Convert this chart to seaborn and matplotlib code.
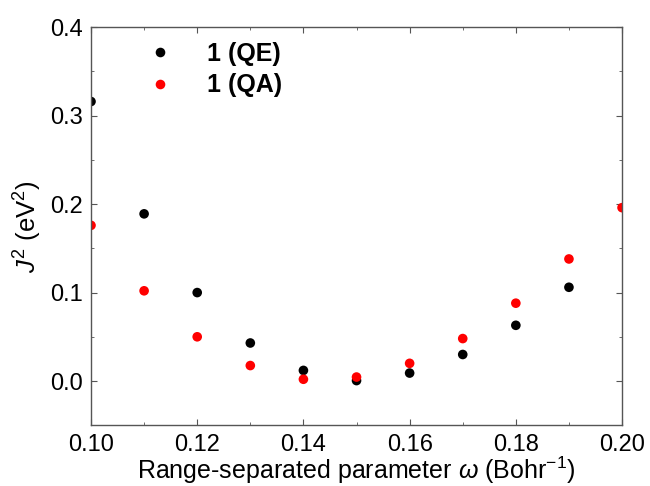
import numpy as np
import pandas as pd
import matplotlib
matplotlib.use("Agg")
import matplotlib.pyplot as plt
import seaborn as sns

omega_qe = [0.10, 0.11, 0.12, 0.13, 0.14, 0.15, 0.16, 0.17, 0.18, 0.19]
j2_qe = [0.316, 0.189, 0.100, 0.043, 0.012, 0.0005, 0.009, 0.030, 0.063, 0.106]
omega_qa = [0.10, 0.11, 0.12, 0.13, 0.14, 0.15, 0.16, 0.17, 0.18, 0.19, 0.20]
j2_qa = [0.176, 0.102, 0.050, 0.0175, 0.002, 0.0045, 0.020, 0.048, 0.088, 0.138, 0.196]
labels = ["1 (QE)", "1 (QA)"]
xticks = [0.10, 0.12, 0.14, 0.16, 0.18, 0.20]
yticks = [0.0, 0.1, 0.2, 0.3, 0.4]

df = pd.DataFrame({
    "omega": omega_qe + omega_qa,
    "J2": j2_qe + j2_qa,
    "series": [labels[0]] * len(omega_qe) + [labels[1]] * len(omega_qa),
})

sns.set_theme(style="ticks")
plt.rcParams['font.family'] = ['Liberation Sans', 'DejaVu Sans']
plt.rcParams['mathtext.fontset'] = 'custom'
plt.rcParams['mathtext.rm'] = 'Liberation Sans'
plt.rcParams['mathtext.it'] = 'Liberation Sans:italic'
plt.rcParams['text.color'] = 'black'
plt.rcParams['axes.labelcolor'] = 'black'
plt.rcParams['xtick.labelcolor'] = 'black'
plt.rcParams['ytick.labelcolor'] = 'black'

fig, ax = plt.subplots(figsize=(6.5, 4.86), dpi=100)
fig.subplots_adjust(left=0.14, right=0.957, top=0.944, bottom=0.125)

sns.scatterplot(data=df, x="omega", y="J2", hue="series",
                palette={labels[0]: "black", labels[1]: "#ff0000"},
                s=48, linewidth=0, ax=ax, legend=True)

ax.set_xlim(0.10, 0.20)
ax.set_ylim(-0.05, 0.4)
ax.set_xticks(xticks)
ax.set_xticklabels([f"{t:.2f}" for t in xticks])
ax.set_yticks(yticks)
ax.set_yticklabels([f"{t:.1f}" for t in yticks])
ax.set_xticks(np.arange(0.11, 0.20, 0.02), minor=True)
ax.set_yticks(np.arange(-0.05, 0.4, 0.1), minor=True)
ax.tick_params(axis="both", which="major", direction="in", length=4, width=0.8,
               labelsize=17, top=True, right=True, color="#555555", pad=6)
ax.tick_params(axis="both", which="minor", direction="in", length=2, width=0.6,
               top=True, right=True, color="#555555")
for sp in ax.spines.values():
    sp.set_color("#555555")
    sp.set_linewidth(1.0)

ax.set_xlabel(r"Range-separated parameter $\omega$ (Bohr$^{-1}$)", fontsize=18, labelpad=-1)
ax.set_ylabel(r"$J^2$ (eV$^2$)", fontsize=18.5, labelpad=4)

leg = ax.legend(loc="upper left", bbox_to_anchor=(0.04, 1.02), frameon=False,
                prop={"weight": "bold", "size": 18, "family": "Liberation Sans"},
                handletextpad=0.9, labelspacing=0.3, markerscale=1.0)

fig.savefig("out.png", dpi=100)
